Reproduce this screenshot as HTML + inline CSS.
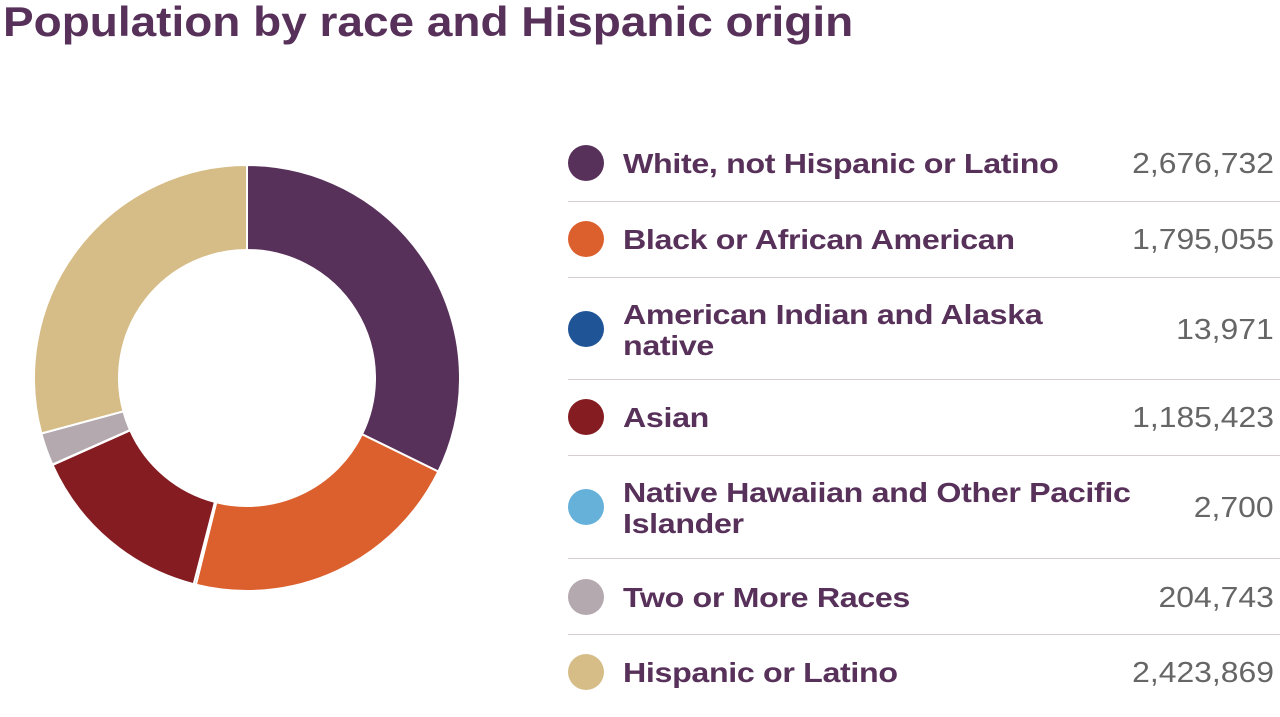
<!DOCTYPE html>
<html><head><meta charset="utf-8"><style>
body{margin:0;width:1280px;height:717px;background:#fff;overflow:hidden;position:relative;font-family:"Liberation Sans",sans-serif}
h1{position:absolute;left:3px;top:-2px;margin:0;font-size:42px;font-weight:bold;color:#57315a;white-space:nowrap;transform:scaleX(1.094);transform-origin:left top}
.row{position:absolute;left:568px;width:712px;border-bottom:1.5px solid #d5cdd2}
.row:last-child{border-bottom:none}
.dot{position:absolute;left:0;width:36px;height:36px;border-radius:50%}
.lab{position:absolute;left:55px;font-weight:bold;color:#57315a;font-size:28px;line-height:31px;letter-spacing:-0.3px;white-space:nowrap;transform:scaleX(1.15);transform-origin:left top}
.val{position:absolute;right:6px;color:#666;font-size:29px;transform:scaleX(1.1);transform-origin:right top}
</style></head><body>
<h1>Population by race and Hispanic origin</h1>
<svg id="d" width="520" height="717" style="position:absolute;left:0;top:0"></svg>
<div id="L"></div>
<script>
var data=[["White, not Hispanic or Latino",2676732,"#57315a"],["Black or African American",1795055,"#dc602e"],["American Indian and Alaska native",13971,"#1f5496"],["Asian",1185423,"#841c21"],["Native Hawaiian and Other Pacific Islander",2700,"#65b1d9"],["Two or More Races",204743,"#b3a9ae"],["Hispanic or Latino",2423869,"#d6bd87"]];
var tot=data.reduce((a,b)=>a+b[1],0),cx=247,cy=378,R=213,r=128,a=0,s="";
function p(rad,ang){return [cx+rad*Math.sin(ang),cy-rad*Math.cos(ang)]}
data.forEach(d=>{var b=a+d[1]/tot*2*Math.PI,l=(b-a)>Math.PI?1:0;
var p1=p(R,a),p2=p(R,b),p3=p(r,b),p4=p(r,a);
s+=`<path d="M${p1}A${R},${R} 0 ${l} 1 ${p2}L${p3}A${r},${r} 0 ${l} 0 ${p4}Z" fill="${d[2]}" stroke="#fff" stroke-width="2"/>`;a=b;});
document.getElementById("d").innerHTML=s;
var rows=[[125,201,163],[201,277,239],[277,379,329],[379,455,417],[455,558,507],[558,634,597],[634,710,672]],h="";
data.forEach((d,i)=>{var t=rows[i][0],c=rows[i][2]-t;
var lab=d[0];if(i==2)lab="American Indian and Alaska<br>native";if(i==4)lab="Native Hawaiian and Other Pacific<br>Islander";
h+=`<div class="row" style="top:${t}px;height:${rows[i][1]-t}px"><div class="dot" style="top:${c-18}px;background:${d[2]}"></div><div class="lab" style="top:${c-(i==2||i==4?30:15)}px">${lab}</div><div class="val" style="top:${c-15}px">${d[1].toLocaleString("en-US")}</div></div>`;});
document.getElementById("L").innerHTML=h;
</script>
</body></html>
